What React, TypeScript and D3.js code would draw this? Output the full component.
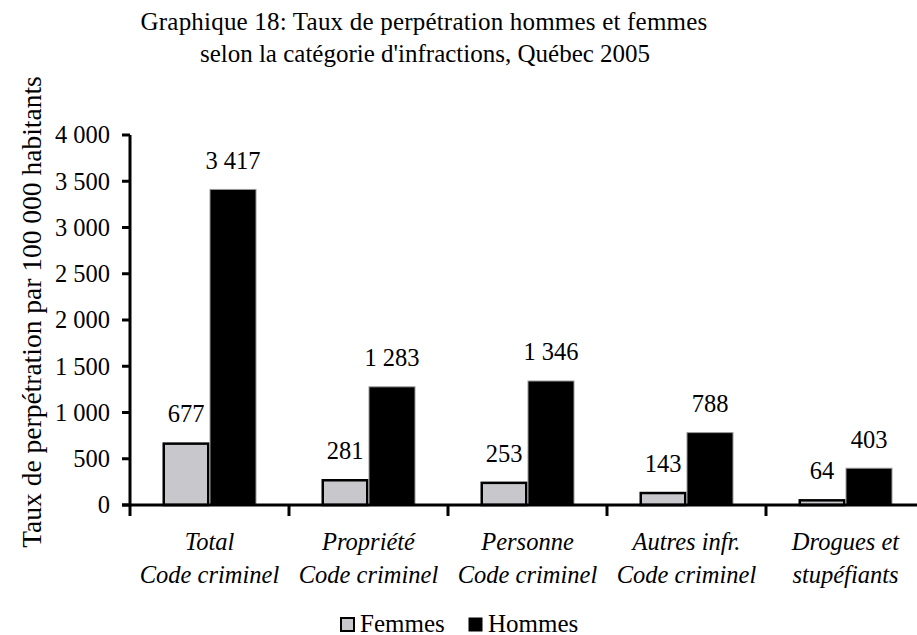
import React from "react";
import * as d3 from "d3";

const categories: string[][] = [
  ["Total", "Code criminel"],
  ["Propriété", "Code criminel"],
  ["Personne", "Code criminel"],
  ["Autres infr.", "Code criminel"],
  ["Drogues et", "stupéfiants"],
];
const femmes = [677, 281, 253, 143, 64];
const hommes = [3417, 1283, 1346, 788, 403];
const yTicks = [0, 500, 1000, 1500, 2000, 2500, 3000, 3500, 4000];
const seriesNames = ["Femmes", "Hommes"];

const W = 917;
const H = 635;
const FONT = "Liberation Serif, Times New Roman, Times, DejaVu Serif, serif";
const ts = (size: number, italic = false): React.CSSProperties => ({
  fontFamily: FONT,
  fontSize: size,
  fontStyle: italic ? "italic" : "normal",
});

const fmt = (v: number) => {
  const s = String(v);
  return s.length > 3 ? s.slice(0, s.length - 3) + " " + s.slice(-3) : s;
};

export default function App() {
  const x0 = 130;
  const bandW = 159;
  const x = d3
    .scaleBand<number>()
    .domain(categories.map((_, i) => i))
    .range([x0, x0 + bandW * categories.length])
    .paddingInner(0)
    .paddingOuter(0);
  const y = d3.scaleLinear().domain([0, 4000]).range([505, 135]);
  const barW = 47;
  const fills = ["#c8c8cc", "#000000"];
  const series = [femmes, hommes];

  return (
    <svg
      width={W}
      height={H}
      style={{ position: "absolute", left: 0, top: 0, background: "#fff" }}
    >
      <rect width={W} height={H} fill="#fff" />
      <text x={424} y={30} textAnchor="middle" style={{ ...ts(25), letterSpacing: 0.2 }}>
        Graphique 18: Taux de perpétration hommes et femmes
      </text>
      <text x={425} y={62} textAnchor="middle" style={ts(25)}>
        selon la catégorie d'infractions, Québec 2005
      </text>
      <text
        transform={`translate(41, 312) rotate(-90)`}
        textAnchor="middle"
        style={ts(27.5)}
      >
        Taux de perpétration par 100 000 habitants
      </text>

      {yTicks.map((t) => (
        <g key={t}>
          <line x1={122} x2={130} y1={y(t)} y2={y(t)} stroke="#000" strokeWidth={3} />
          <text x={110} y={y(t)} dy="0.34em" textAnchor="end" style={ts(24.5)}>
            {fmt(t)}
          </text>
        </g>
      ))}

      {categories.map((c, i) => {
        const bx = (x(i) as number) + bandW / 2;
        return (
          <g key={i}>
            {series.map((s, j) => {
              const left = bx - barW + j * barW;
              const top = y(s[i]);
              return (
                <g key={j}>
                  <rect
                    x={left + (j === 0 ? 1.25 : 0.5)}
                    y={top + (j === 0 ? 1.25 : 0.5)}
                    width={barW - (j === 0 ? 2.5 : 1)}
                    height={505 - top - (j === 0 ? 1.25 : 0.5)}
                    fill={fills[j]}
                    stroke={j === 0 ? "#000" : "#999"}
                    strokeWidth={j === 0 ? 2.5 : 1}
                  />
                  <text
                    x={left + barW / 2}
                    y={top - 20}
                    textAnchor="middle"
                    style={ts(24.5)}
                  >
                    {fmt(s[i])}
                  </text>
                </g>
              );
            })}
            <text x={bx} y={550} textAnchor="middle" style={ts(24.5, true)}>
              {c[0]}
            </text>
            <text x={bx} y={583} textAnchor="middle" style={ts(24.5, true)}>
              {c[1]}
            </text>
          </g>
        );
      })}

      <line x1={122} x2={W} y1={505} y2={505} stroke="#000" strokeWidth={3} />
      <line x1={130} x2={130} y1={135} y2={516} stroke="#000" strokeWidth={3} />
      {categories.map((_, i) => (
        <line
          key={i}
          x1={(x(i) as number) + bandW}
          x2={(x(i) as number) + bandW}
          y1={505}
          y2={516}
          stroke="#000"
          strokeWidth={3}
        />
      ))}

      {seriesNames.map((n, j) => {
        const lx = j === 0 ? 341 : 469;
        return (
          <g key={n}>
            <rect
              x={lx}
              y={618}
              width={13}
              height={13}
              fill={fills[j]}
              stroke="#000"
              strokeWidth={j === 0 ? 2 : 1}
            />
            <text x={lx + 19} y={631.5} style={ts(25)}>
              {n}
            </text>
          </g>
        );
      })}
    </svg>
  );
}
